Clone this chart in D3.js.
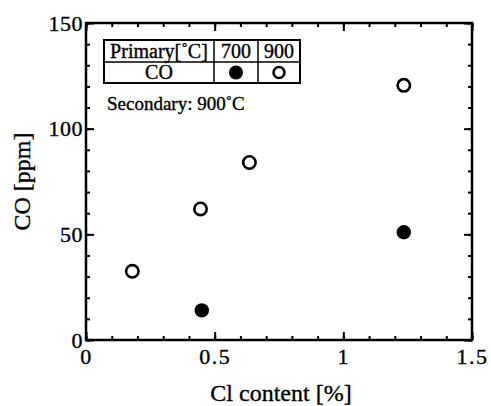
<!DOCTYPE html>
<html>
<head>
<meta charset="utf-8">
<script src="https://cdn.jsdelivr.net/npm/d3@7"></script>
<style>
  body { margin: 0; background: #fff; }
  text { font-family: "Liberation Serif", "Times New Roman", serif; fill: #000; stroke: #000; stroke-width: 0.35px; }
</style>
</head>
<body>
<div id="chart"></div>
<script>
var width = 491
var height = 406
var margin = { top: 23, right: 19, bottom: 66, left: 86 }
var w = width - margin.left - margin.right
var h = height - margin.top - margin.bottom

// primary 700 C (filled) and 900 C (open), secondary 900 C
var cl700 = [0.45, 1.235]
var co700 = [14, 51]
var cl900 = [0.18, 0.445, 0.635, 1.235]
var co900 = [32.5, 62, 84, 120.5]
var xTicks = [0, 0.5, 1, 1.5]
var yTicks = [0, 50, 100, 150]

var svg = d3.select('#chart').append('svg')
  .attr('width', width)
  .attr('height', height)

var g = svg.append('g')
  .attr('transform', 'translate(' + margin.left + ',' + margin.top + ')')

var x = d3.scaleLinear().domain([0, 1.5]).range([0, w])
var y = d3.scaleLinear().domain([0, 150]).range([h, 0])

var minorX = d3.range(0, 16).map(d => d / 10)
var minorY = d3.range(0, 16).map(d => d * 10)

function styleAxis(sel) {
  sel.select('.domain').remove()
  sel.selectAll('line').attr('stroke', '#000').attr('stroke-width', 2)
}

// minor ticks, inward on all four sides
g.append('g').attr('transform', 'translate(0,' + h + ')')
  .call(d3.axisBottom(x).tickValues(minorX).tickSize(-4).tickFormat(''))
  .call(styleAxis)
g.append('g')
  .call(d3.axisTop(x).tickValues(minorX).tickSize(-4).tickFormat(''))
  .call(styleAxis)
g.append('g')
  .call(d3.axisLeft(y).tickValues(minorY).tickSize(-4).tickFormat(''))
  .call(styleAxis)
g.append('g').attr('transform', 'translate(' + w + ',0)')
  .call(d3.axisRight(y).tickValues(minorY).tickSize(-4).tickFormat(''))
  .call(styleAxis)

// major ticks with labels
var xAxis = g.append('g').attr('transform', 'translate(0,' + h + ')')
  .call(d3.axisBottom(x).tickValues(xTicks).tickSize(-8).tickPadding(8).tickFormat(d => d))
  .call(styleAxis)
xAxis.selectAll('text').style('font-size', '22px').style('letter-spacing', '1.5px').attr('dy', '0.71em')

var yAxis = g.append('g')
  .call(d3.axisLeft(y).tickValues(yTicks).tickSize(-8).tickPadding(3).tickFormat(d => d))
  .call(styleAxis)
yAxis.selectAll('text').style('font-size', '22px').style('letter-spacing', '0.5px')

g.append('g')
  .call(d3.axisTop(x).tickValues(xTicks).tickSize(-8).tickFormat(''))
  .call(styleAxis)
g.append('g').attr('transform', 'translate(' + w + ',0)')
  .call(d3.axisRight(y).tickValues(yTicks).tickSize(-8).tickFormat(''))
  .call(styleAxis)

// frame
g.append('rect')
  .attr('width', w).attr('height', h)
  .attr('fill', 'none').attr('stroke', '#000').attr('stroke-width', 2.5)

// points
g.selectAll('.p900').data(cl900).enter().append('circle')
  .attr('cx', d => x(d))
  .attr('cy', (d, i) => y(co900[i]))
  .attr('r', 6.2)
  .attr('fill', '#fff').attr('stroke', '#000').attr('stroke-width', 2.6)

g.selectAll('.p700').data(cl700).enter().append('circle')
  .attr('cx', d => x(d))
  .attr('cy', (d, i) => y(co700[i]))
  .attr('r', 7.2)
  .attr('fill', '#000')

// axis titles
svg.append('text')
  .attr('x', 281)
  .attr('y', 401)
  .attr('text-anchor', 'middle')
  .style('font-size', '24px')
  .text('Cl content [%]')

svg.append('text')
  .attr('transform', 'translate(30,' + (margin.top + h / 2) + ') rotate(-90)')
  .attr('text-anchor', 'middle')
  .style('font-size', '24px')
  .text('CO [ppm]')

// legend table
var tbl = svg.append('g')
var cols = [104, 214, 258, 300]
var rows = [40, 62, 83]
tbl.append('rect')
  .attr('x', cols[0]).attr('y', rows[0])
  .attr('width', cols[3] - cols[0]).attr('height', rows[2] - rows[0])
  .attr('fill', '#fff').attr('stroke', '#000').attr('stroke-width', 2)
tbl.append('line')
  .attr('x1', cols[0]).attr('x2', cols[3]).attr('y1', rows[1]).attr('y2', rows[1])
  .attr('stroke', '#000').attr('stroke-width', 1.5)
tbl.selectAll('.vl').data([cols[1], cols[2]]).enter().append('line')
  .attr('x1', d => d).attr('x2', d => d).attr('y1', rows[0]).attr('y2', rows[2])
  .attr('stroke', '#000').attr('stroke-width', 1.5)

var head = ['Primary[\u02daC]', '700', '900']
tbl.selectAll('.hd').data(head).enter().append('text')
  .attr('x', (d, i) => (cols[i] + cols[i + 1]) / 2)
  .attr('y', rows[1] - 4)
  .attr('text-anchor', 'middle')
  .style('font-size', '20px')
  .text(d => d)

tbl.append('text')
  .attr('x', (cols[0] + cols[1]) / 2)
  .attr('y', rows[2] - 4)
  .attr('text-anchor', 'middle')
  .style('font-size', '20px')
  .text('CO')
tbl.append('circle')
  .attr('cx', (cols[1] + cols[2]) / 2).attr('cy', (rows[1] + rows[2]) / 2)
  .attr('r', 7).attr('fill', '#000')
tbl.append('circle')
  .attr('cx', (cols[2] + cols[3]) / 2).attr('cy', (rows[1] + rows[2]) / 2)
  .attr('r', 5.5).attr('fill', '#fff').attr('stroke', '#000').attr('stroke-width', 2.5)

svg.append('text')
  .attr('x', 107).attr('y', 110)
  .style('font-size', '19px')
  .text('Secondary: 900\u02daC')
</script>
</body>
</html>
